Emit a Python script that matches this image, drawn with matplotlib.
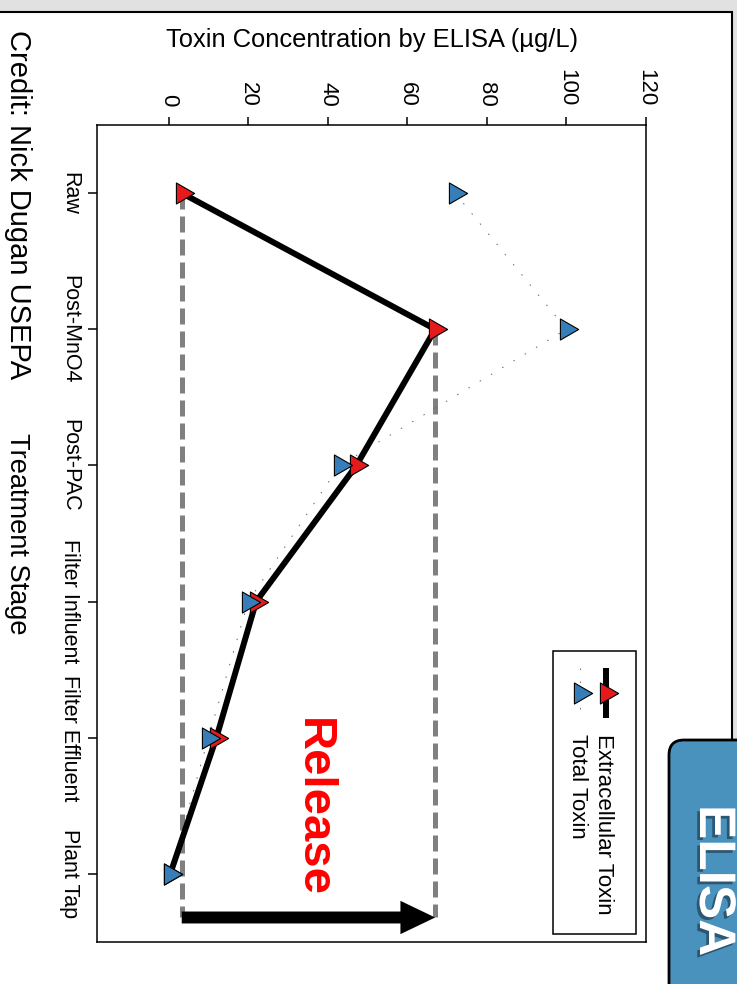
import matplotlib
matplotlib.use('Agg')
import numpy as np
import matplotlib.pyplot as plt
import matplotlib.patheffects as pe
from matplotlib import transforms
from matplotlib.patches import Rectangle, FancyBboxPatch
from matplotlib.path import Path

# Toxin concentrations (ug/L) through the treatment train
stages = ['Raw', 'Post-MnO4', 'Post-PAC', 'Filter Influent', 'Filter Effluent', 'Plant Tap']
extracellular = [3.3, 67, 47.2, 22, 12, 0.4]
total_toxin = [72, 100, 43, 20, 10, 0.4]
conc_ticks = [0, 20, 40, 60, 80, 100, 120]

RED = '#e41a1c'
BLUE = '#377eb8'

plt.rcParams['font.family'] = ['Liberation Sans', 'DejaVu Sans']

W, H = 737, 984
fig = plt.figure(figsize=(W / 100, H / 100), dpi=100)
fig.patch.set_facecolor('#e1e1e1')

# pixel coordinates, origin at top-left
pix = transforms.Affine2D().scale(1 / 100, -1 / 100).translate(0, H / 100) + fig.dpi_scale_trans

# equilateral triangle marker, centred on its centroid
tri = Path([(0.577, 0), (-0.289, 0.5), (-0.289, -0.5), (0.577, 0)], closed=True)
mk = dict(marker=tri, ms=17.5, mec='black', mew=0.8)

# white slide panel
fig.add_artist(Rectangle((-10, 12), 742, 990, transform=pix, facecolor='white',
                         edgecolor='black', lw=1.5, zorder=-1))

ax = fig.add_axes([97 / W, 1 - 942 / H, 549 / W, 817 / H])
ax.set_xlim(-18, 120)
ax.set_ylim(5.5, -0.5)
pos = np.arange(len(stages))

# release guide lines + arrow
arrow_y = 5.32
ax.plot([extracellular[0]] * 2, [0, arrow_y], color='#808080', lw=3.6, dashes=(3.2, 1.4), zorder=2)
ax.plot([extracellular[1]] * 2, [1, arrow_y], color='#808080', lw=3.6, dashes=(3.2, 1.4), zorder=2)
ax.annotate('', xy=(extracellular[1], arrow_y), xytext=(extracellular[0], arrow_y),
            arrowprops=dict(facecolor='black', edgecolor='none', width=8.6,
                            headwidth=24, headlength=25, shrink=0))
ax.text(33.2, 4.51, 'Release', color='red', fontsize=34, fontweight='bold', rotation=-90,
        rotation_mode='anchor', ha='center', va='baseline')

# series
ax.plot(total_toxin, pos, color='#666666', lw=0.7, ls=(0, (1.5, 12)), zorder=3)
ax.plot(extracellular, pos, color='black', lw=4.3, mfc=RED, zorder=4, **mk)
ax.plot(total_toxin, pos, ls='none', mfc=BLUE, zorder=5, **mk)

# axes styling
ax.xaxis.tick_top()
ax.set_xticks(conc_ticks)
ax.set_xticklabels([str(t) for t in conc_ticks])
ax.tick_params(axis='x', length=5.8, width=1.1, pad=7.5, labelsize=16, labelrotation=-90)
ax.set_yticks(pos)
ax.set_yticklabels(stages, va='center', ha='right')
ax.tick_params(axis='y', length=6.5, width=1.1, pad=5.8, labelsize=15.5, labelrotation=-90)
for s in ax.spines.values():
    s.set_linewidth(1.1)

# legend
ax.add_patch(Rectangle((96.5, 3.36), 21.1, 2.08, facecolor='white', edgecolor='black',
                       lw=1.1, zorder=6))
ax.plot([110, 110], [3.485, 3.853], color='black', lw=4.3, solid_capstyle='butt', zorder=7)
ax.plot([110], [3.67], ls='none', mfc=RED, zorder=8, **mk)
ax.plot([103.3, 103.3], [3.485, 3.853], color='#666666', lw=0.7, ls=(0, (1.5, 12)), zorder=7)
ax.plot([103.3], [3.67], ls='none', mfc=BLUE, zorder=8, **mk)
ax.text(108, 3.97, 'Extracellular Toxin', fontsize=16, rotation=-90, rotation_mode='anchor',
        ha='left', va='baseline', zorder=8)
ax.text(101.5, 3.97, 'Total Toxin', fontsize=16, rotation=-90, rotation_mode='anchor',
        ha='left', va='baseline', zorder=8)

# axis titles and credit
fig.text(372, 47, 'Toxin Concentration by ELISA (µg/L)', transform=pix, fontsize=18.4,
         ha='center', va='baseline')
fig.text(10, 30, 'Credit: Nick Dugan USEPA', transform=pix, fontsize=21, rotation=-90,
         rotation_mode='anchor', ha='left', va='baseline')
fig.text(10, 533.5, 'Treatment Stage', transform=pix, fontsize=19.6, rotation=-90,
         rotation_mode='anchor', ha='center', va='baseline')

# method tab
fig.add_artist(FancyBboxPatch((669, 740), 120, 300, boxstyle='round,pad=0,rounding_size=15',
                              transform=pix, facecolor='#4a92be', edgecolor='black', lw=2,
                              zorder=5))
fig.text(700, 805, 'ELISA', transform=pix, color='white', fontsize=37, fontweight='bold',
         rotation=-90, rotation_mode='anchor', ha='left', va='baseline', zorder=6,
         path_effects=[pe.withSimplePatchShadow(offset=(-2, -2), shadow_rgbFace='black',
                                                alpha=0.4)])

fig.savefig('out.png', dpi=100, facecolor=fig.get_facecolor())
